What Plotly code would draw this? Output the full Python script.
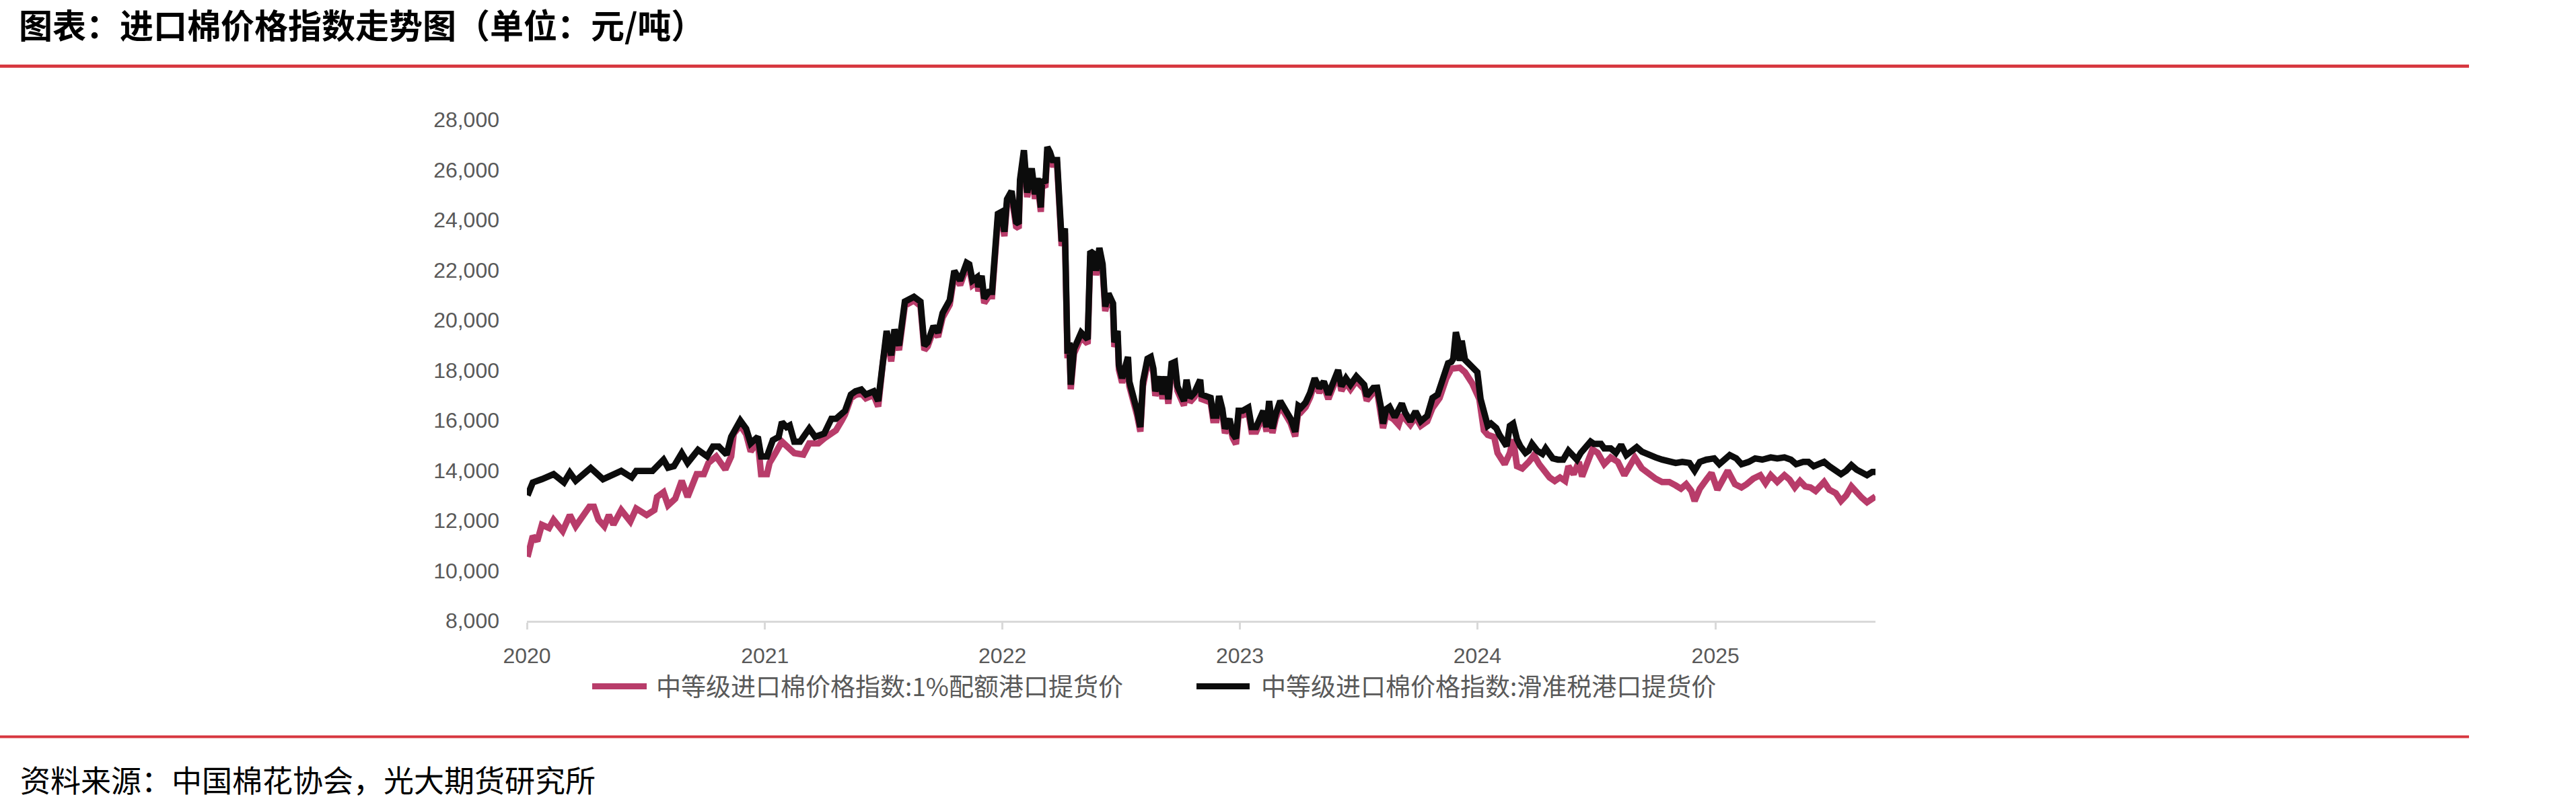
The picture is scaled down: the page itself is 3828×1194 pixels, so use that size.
import plotly.graph_objects as go

# ---------------- data ----------------
black_dates = [
    "2020-01-02","2020-01-06","2020-01-10","2020-01-24","2020-02-11","2020-02-27","2020-03-07","2020-03-16",
    "2020-04-08","2020-04-27","2020-05-25","2020-06-10","2020-06-17","2020-07-12","2020-07-22","2020-07-29",
    "2020-08-05","2020-08-14","2020-08-26","2020-09-04","2020-09-20","2020-10-04","2020-10-13","2020-10-22",
    "2020-11-03","2020-11-10","2020-11-24","2020-12-03","2020-12-10","2020-12-21","2020-12-26",
    "2021-01-04","2021-01-13","2021-01-22","2021-01-27","2021-02-03","2021-02-08","2021-02-15","2021-02-24",
    "2021-03-10","2021-03-19","2021-04-02","2021-04-13","2021-04-20",
    "2021-05-04","2021-05-13","2021-05-20","2021-05-29","2021-06-05","2021-06-17","2021-06-24","2021-07-01",
    "2021-07-07","2021-07-14","2021-07-19","2021-07-26","2021-07-31","2021-08-04","2021-08-18","2021-08-28",
    "2021-09-03","2021-09-08","2021-09-17","2021-09-24","2021-10-01","2021-10-12","2021-10-19","2021-10-28",
    "2021-11-07","2021-11-11","2021-11-16","2021-11-23","2021-11-25","2021-11-30","2021-12-04","2021-12-11",
    "2021-12-16","2021-12-20","2021-12-25","2021-12-30",
    "2022-01-04","2022-01-08","2022-01-15","2022-01-22","2022-01-26","2022-01-28","2022-02-03","2022-02-08",
    "2022-02-15","2022-02-20","2022-02-24","2022-03-01","2022-03-03","2022-03-08","2022-03-11","2022-03-15",
    "2022-03-19","2022-03-26","2022-03-29","2022-03-31","2022-04-02","2022-04-07","2022-04-09","2022-04-11",
    "2022-04-14","2022-04-16","2022-04-21","2022-04-25","2022-05-02","2022-05-12","2022-05-14","2022-05-16",
    "2022-05-23","2022-05-25","2022-05-30","2022-06-04","2022-06-08","2022-06-13","2022-06-20","2022-06-22",
    "2022-06-27","2022-06-29","2022-07-04","2022-07-13","2022-07-15","2022-07-22","2022-07-27","2022-08-01",
    "2022-08-05","2022-08-12","2022-08-17","2022-08-21","2022-08-24","2022-08-31","2022-09-04","2022-09-09",
    "2022-09-13","2022-09-18","2022-09-23","2022-09-27","2022-10-07","2022-10-11","2022-10-16","2022-10-23",
    "2022-11-01","2022-11-03","2022-11-10","2022-11-17","2022-11-21","2022-11-26","2022-11-30","2022-12-05",
    "2022-12-09","2022-12-16","2022-12-21","2022-12-26","2022-12-30",
    "2023-01-05","2023-01-14","2023-01-19","2023-01-26","2023-01-30","2023-02-06","2023-02-11","2023-02-15",
    "2023-02-20","2023-02-25","2023-03-04","2023-03-13","2023-03-20","2023-03-27","2023-04-01","2023-04-05",
    "2023-04-12","2023-04-19","2023-04-26","2023-05-03","2023-05-10","2023-05-17","2023-05-23","2023-06-01",
    "2023-06-06","2023-06-13","2023-06-20","2023-06-29","2023-07-11","2023-07-15","2023-07-25","2023-07-31",
    "2023-08-06","2023-08-09","2023-08-14","2023-08-19","2023-08-27","2023-09-02","2023-09-07","2023-09-12",
    "2023-09-20","2023-09-28","2023-10-06","2023-10-16","2023-10-24","2023-11-01","2023-11-09","2023-11-17",
    "2023-11-22","2023-11-25","2023-11-29","2023-12-03","2023-12-05","2023-12-08","2023-12-13","2023-12-19",
    "2023-12-26",
    "2024-01-01","2024-01-06","2024-01-11","2024-01-17","2024-01-22","2024-01-30","2024-02-04","2024-02-10",
    "2024-02-15","2024-02-20","2024-02-25","2024-03-02","2024-03-07","2024-03-15","2024-03-20","2024-03-25",
    "2024-04-02","2024-04-10","2024-04-15","2024-04-21","2024-04-26","2024-05-04","2024-05-12","2024-05-20",
    "2024-05-28","2024-06-02","2024-06-08","2024-06-18","2024-06-23","2024-06-28","2024-07-09","2024-07-14",
    "2024-07-24","2024-08-01","2024-08-09","2024-08-17","2024-08-25","2024-09-02","2024-09-10","2024-09-20",
    "2024-10-01","2024-10-11","2024-10-22","2024-11-01","2024-11-11","2024-11-22","2024-11-30","2024-12-08",
    "2024-12-18","2024-12-30",
    "2025-01-07","2025-01-15","2025-01-23","2025-02-02","2025-02-10","2025-02-21","2025-03-03","2025-03-14",
    "2025-03-27","2025-04-06","2025-04-17","2025-04-27","2025-05-05","2025-05-16","2025-05-24","2025-06-01",
    "2025-06-12","2025-06-17","2025-06-25","2025-07-05","2025-07-13","2025-07-21","2025-07-29","2025-08-06",
    "2025-08-14","2025-08-22","2025-08-30","2025-09-04",
]
black_values = [
    13000,13250,13520,13650,13850,13520,13910,13590,
    14100,13650,13980,13720,13980,13980,14300,14430,
    14110,14170,14690,14300,14820,14560,14950,14950,
    14630,15340,15990,15670,15080,15340,14560,
    14560,15210,15340,15930,15730,15800,15150,15150,
    15670,15340,15470,16060,16060,
    16380,17030,17160,17230,17030,17160,16770,18460,
    19570,18590,19630,18980,20280,20740,20930,20740,
    18980,19110,19760,19500,20280,20800,21970,21580,
    22290,22230,21580,21710,21320,21770,20870,21130,
    21130,22880,24240,24310,
    23530,24830,25150,23920,23850,25610,26780,25090,
    26060,25020,25670,24500,25610,25480,26910,26710,
    26390,26390,24630,23920,23140,23660,19890,18660,
    19110,17420,18850,19110,19500,19240,21190,22750,
    22620,21970,22880,22230,20540,21060,20670,19110,
    19570,18200,17680,18530,17550,16900,16380,15730,
    17550,18460,18530,18070,17160,17750,17030,17750,
    16840,18270,18330,17360,16770,17620,16900,17100,
    17620,17030,16970,16900,16190,16190,16970,16450,
    15670,16060,15470,15280,16380,
    16380,16510,15730,15730,15930,16380,15730,16770,
    15670,16250,16770,16380,16060,15540,16580,16510,
    16710,17100,17680,17290,17550,17030,17490,18010,
    17360,17680,17420,17750,17420,16970,17290,17300,
    16500,15870,16450,16540,16130,16400,16670,16310,
    15960,16360,15960,16180,16890,17030,17610,18280,
    18330,18460,19520,19090,18370,19180,18420,18280,
    18100,
    17920,16850,16400,15780,15870,15690,15420,15150,
    14970,15780,15870,15240,14970,14700,14790,15060,
    14790,14660,14880,14660,14480,14430,14430,14790,
    14610,14430,14700,14970,15150,15060,15060,14880,
    14880,14700,15020,14610,14790,14930,14750,14610,
    14520,14430,14340,14300,14340,14300,13990,14340,
    14430,14480,
    14250,14430,14610,14480,14250,14340,14480,14430,
    14520,14480,14520,14430,14250,14340,14340,14170,
    14250,14340,14170,14030,13850,13990,14210,14030,
    13900,13810,13940,13940,
]

pink_dates = [
    "2020-01-02","2020-01-06","2020-01-10","2020-01-17","2020-01-24","2020-02-04","2020-02-11","2020-02-25",
    "2020-03-07","2020-03-16","2020-03-25","2020-04-06","2020-04-13","2020-04-20","2020-04-29","2020-05-06",
    "2020-05-13","2020-05-25","2020-06-08","2020-06-17","2020-07-03","2020-07-15","2020-07-19","2020-07-29",
    "2020-08-05","2020-08-16","2020-08-26","2020-09-04","2020-09-18","2020-09-29","2020-10-06","2020-10-18",
    "2020-11-01","2020-11-10","2020-11-14","2020-11-24","2020-12-03","2020-12-10","2020-12-21","2020-12-26",
    "2021-01-04","2021-01-08","2021-01-17","2021-01-27","2021-02-15","2021-03-01","2021-03-10","2021-03-24",
    "2021-04-02","2021-04-20","2021-04-29",
    "2021-05-04","2021-05-13","2021-05-20","2021-05-29","2021-06-05","2021-06-17","2021-06-24","2021-07-01",
    "2021-07-07","2021-07-14","2021-07-19","2021-07-26","2021-07-31","2021-08-04","2021-08-18","2021-08-28",
    "2021-09-03","2021-09-08","2021-09-17","2021-09-24","2021-10-01","2021-10-12","2021-10-19","2021-10-28",
    "2021-11-07","2021-11-11","2021-11-16","2021-11-23","2021-11-25","2021-11-30","2021-12-04","2021-12-11",
    "2021-12-16","2021-12-20","2021-12-25","2021-12-30",
    "2022-01-04","2022-01-08","2022-01-15","2022-01-22","2022-01-26","2022-01-28","2022-02-03","2022-02-08",
    "2022-02-15","2022-02-20","2022-02-24","2022-03-01","2022-03-03","2022-03-08","2022-03-11","2022-03-15",
    "2022-03-19","2022-03-26","2022-03-29","2022-03-31","2022-04-02","2022-04-07","2022-04-09","2022-04-11",
    "2022-04-14","2022-04-16","2022-04-21","2022-04-25","2022-05-02","2022-05-12","2022-05-14","2022-05-16",
    "2022-05-23","2022-05-25","2022-05-30","2022-06-04","2022-06-08","2022-06-13","2022-06-20","2022-06-22",
    "2022-06-27","2022-06-29","2022-07-04","2022-07-13","2022-07-15","2022-07-22","2022-07-27","2022-08-01",
    "2022-08-05","2022-08-12","2022-08-17","2022-08-21","2022-08-24","2022-08-31","2022-09-04","2022-09-09",
    "2022-09-13","2022-09-18","2022-09-23","2022-09-27","2022-10-07","2022-10-11","2022-10-16","2022-10-23",
    "2022-11-01","2022-11-03","2022-11-10","2022-11-17","2022-11-21","2022-11-26","2022-11-30","2022-12-05",
    "2022-12-09","2022-12-16","2022-12-21","2022-12-26","2022-12-30",
    "2023-01-05","2023-01-14","2023-01-19","2023-01-26","2023-01-30","2023-02-06","2023-02-11","2023-02-15",
    "2023-02-20","2023-02-25","2023-03-04","2023-03-13","2023-03-20","2023-03-27","2023-04-01","2023-04-05",
    "2023-04-12","2023-04-19","2023-04-26","2023-05-03","2023-05-10","2023-05-17","2023-05-23","2023-06-01",
    "2023-06-06","2023-06-13","2023-06-20","2023-06-29","2023-07-11","2023-07-15","2023-07-25","2023-07-31",
    "2023-08-09","2023-08-14","2023-08-25","2023-09-02","2023-09-07","2023-09-20","2023-09-28","2023-10-06",
    "2023-10-16","2023-10-24","2023-11-04","2023-11-14","2023-11-22","2023-11-29","2023-12-05","2023-12-13",
    "2023-12-24",
    "2024-01-04","2024-01-11","2024-01-17","2024-01-27","2024-02-01","2024-02-12","2024-02-20","2024-02-25",
    "2024-03-02","2024-03-10","2024-03-20","2024-03-28","2024-04-05","2024-04-13","2024-04-21","2024-04-29",
    "2024-05-07","2024-05-15","2024-05-20","2024-05-28","2024-06-05","2024-06-10","2024-06-18","2024-06-26",
    "2024-07-04","2024-07-14","2024-07-24","2024-08-04","2024-08-14","2024-08-25","2024-08-30","2024-09-10",
    "2024-09-20","2024-10-01","2024-10-11","2024-10-22","2024-11-01","2024-11-09","2024-11-17","2024-11-25",
    "2024-11-30","2024-12-08","2024-12-18","2024-12-26",
    "2025-01-04","2025-01-12","2025-01-20","2025-01-31","2025-02-10","2025-02-18","2025-02-28","2025-03-11",
    "2025-03-19","2025-03-27","2025-04-06","2025-04-17","2025-04-25","2025-05-03","2025-05-11","2025-05-19",
    "2025-05-27","2025-06-04","2025-06-17","2025-06-25","2025-07-05","2025-07-13","2025-07-21","2025-07-29",
    "2025-08-06","2025-08-14","2025-08-22","2025-08-30","2025-09-04",
]
pink_values = [
    10550,11150,11380,11180,11830,11700,12030,11580,
    12220,11770,12090,12550,12550,12030,11770,12220,
    11840,12420,11960,12480,12220,12420,12940,13130,
    12610,12870,13590,12940,13850,13850,14300,14560,
    14040,14560,15470,15800,15450,14760,15150,13850,
    13850,14300,14690,15150,14690,14630,15080,15080,
    15280,15600,15990,
    16230,16880,17010,17080,16880,17010,16550,18250,
    19400,18350,19450,18800,20100,20580,20780,20560,
    18800,18950,19600,19330,20100,20620,21800,21400,
    22120,22060,21400,21540,21150,21600,20680,20950,
    20950,22700,24060,24130,
    23350,24650,24970,23740,23670,25430,26600,24910,
    25880,24840,25490,24320,25430,25300,26730,26530,
    26210,26210,24450,23740,22960,23480,19710,18480,
    18930,17240,18670,18930,19320,19060,21010,22570,
    22440,21790,22700,22050,20360,20880,20490,18930,
    19390,18020,17500,18350,17370,16720,16200,15550,
    17370,18280,18350,17890,16980,17570,16850,17570,
    16660,18090,18150,17180,16590,17440,16720,16920,
    17440,16850,16790,16720,16010,16010,16790,16270,
    15490,15880,15290,15050,16200,
    16200,16330,15550,15550,15750,16200,15550,16590,
    15490,16070,16590,16200,15880,15360,16400,16330,
    16530,16920,17500,17110,17370,16850,17310,17830,
    17180,17500,17240,17570,17240,16790,17110,17150,
    15690,16220,16050,15820,16220,15820,16130,15780,
    15960,16490,16890,17660,18060,18100,18100,17920,
    17480,
    16850,15600,15420,15330,14700,14250,14700,15240,
    14170,14080,14340,14610,14250,13990,13720,13580,
    13720,13580,14170,13850,14340,13760,14340,14840,
    14700,14250,14520,14340,13810,14340,14520,14080,
    13850,13670,13540,13540,13400,13270,13450,13180,
    12780,13270,13630,13900,
    13230,13630,13990,13450,13320,13450,13670,13810,
    13490,13810,13540,13810,13630,13320,13580,13360,
    13320,13180,13540,13230,13090,12780,13000,13360,
    13090,12910,12730,12910,12960,
]

series_names = ["中等级进口棉价格指数:1%配额港口提货价", "中等级进口棉价格指数:滑准税港口提货价"]
series_colors = ["#B83C6A", "#0C0C0C"]
y_ticks = [8000, 10000, 12000, 14000, 16000, 18000, 20000, 22000, 24000, 26000, 28000]
x_range = ["2020-01-01", "2025-09-04"]
title_text = "图表：进口棉价格指数走势图（单位：元/吨）"
source_text = "资料来源：中国棉花协会，光大期货研究所"

# ---------------- layout geometry (pixels) ----------------
FW, FH = 3828, 1194
L, R, T, B = 783, 1041, 178, 271
PW, PH = FW - L - R, FH - T - B


def px_x(X):
    return (X - L) / PW


def px_y(Y):
    return (FH - B - Y) / PH


CJK = "Noto Sans CJK SC"
NUM = "Liberation Sans, Arial, sans-serif"
LINE_W = 9.5

fig = go.Figure()
fig.add_trace(go.Scatter(x=pink_dates, y=pink_values, mode="lines", name=series_names[0],
                         line=dict(color=series_colors[0], width=LINE_W), showlegend=False))
fig.add_trace(go.Scatter(x=black_dates, y=black_values, mode="lines", name=series_names[1],
                         line=dict(color=series_colors[1], width=LINE_W), showlegend=False))

fig.update_layout(
    width=FW, height=FH,
    margin=dict(l=L, r=R, t=T, b=B, pad=0),
    paper_bgcolor="white", plot_bgcolor="white",
    showlegend=False,
    xaxis=dict(
        type="date", range=x_range, dtick="M12", tick0="2020-01-01", tickformat="%Y",
        showgrid=False, zeroline=False,
        showline=True, linecolor="#D9D9D9", linewidth=3,
        ticks="outside", ticklen=10, tickwidth=3, tickcolor="#D9D9D9",
        tickfont=dict(family=NUM, size=32, color="#595959"),
        ticklabelstandoff=12,
    ),
    yaxis=dict(
        range=[8000, 28000], tickvals=y_ticks, tickformat=",d",
        showgrid=False, zeroline=False, showline=False, ticks="",
        tickfont=dict(family=NUM, size=32, color="#595959"),
        ticklabelstandoff=40,
    ),
)

shapes = [
    dict(type="line", xref="paper", yref="paper", x0=px_x(0), x1=px_x(3669), y0=px_y(98.3), y1=px_y(98.3),
         line=dict(color="#D7373F", width=4.7)),
    dict(type="line", xref="paper", yref="paper", x0=px_x(0), x1=px_x(3669), y0=px_y(1095.5), y1=px_y(1095.5),
         line=dict(color="#D7373F", width=4.2)),
    # legend swatches
    dict(type="line", xref="paper", yref="paper", x0=px_x(880), x1=px_x(961), y0=px_y(1020.5), y1=px_y(1020.5),
         line=dict(color=series_colors[0], width=9)),
    dict(type="line", xref="paper", yref="paper", x0=px_x(1778), x1=px_x(1857), y0=px_y(1020.5), y1=px_y(1020.5),
         line=dict(color=series_colors[1], width=9)),
]

annotations = [
    dict(text=f"<b>{title_text}</b>", xref="paper", yref="paper", x=px_x(26), y=px_y(35),
         xanchor="left", yanchor="middle", showarrow=False,
         font=dict(family=CJK, size=50, color="#000000")),
    dict(text=source_text, xref="paper", yref="paper", x=px_x(28), y=px_y(1158),
         xanchor="left", yanchor="middle", showarrow=False,
         font=dict(family=CJK, size=45, color="#000000")),
    dict(text=series_names[0], xref="paper", yref="paper", x=px_x(973), y=px_y(1019),
         xanchor="left", yanchor="middle", showarrow=False,
         font=dict(family=CJK, size=37, color="#595959")),
    dict(text=series_names[1], xref="paper", yref="paper", x=px_x(1872), y=px_y(1019),
         xanchor="left", yanchor="middle", showarrow=False,
         font=dict(family=CJK, size=37, color="#595959")),
]

fig.update_layout(shapes=shapes, annotations=annotations)

fig.write_html("out.html")
